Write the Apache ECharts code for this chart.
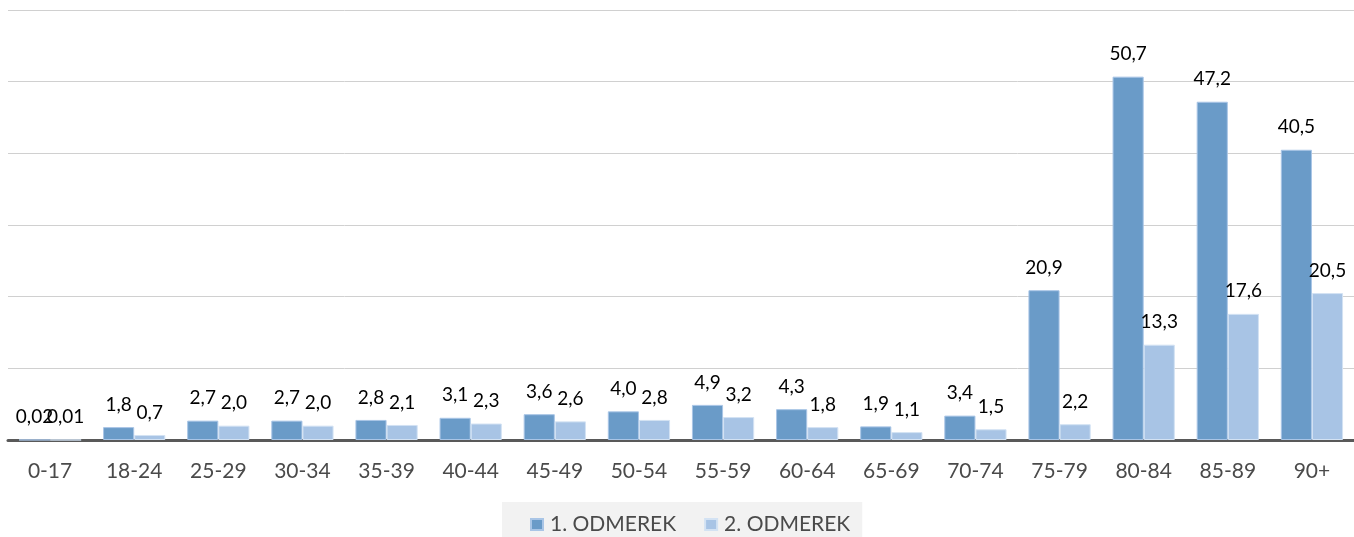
<!DOCTYPE html>
<html>
<head>
<meta charset="utf-8">
<script src="https://cdn.jsdelivr.net/npm/echarts@6/dist/echarts.min.js"></script>
<style>
html,body{margin:0;padding:0;background:#fff;}
#chart{width:1354px;height:537px;}
</style>
</head>
<body>
<div id="chart"></div>
<script>
const categories = ['0-17','18-24','25-29','30-34','35-39','40-44','45-49','50-54','55-59','60-64','65-69','70-74','75-79','80-84','85-89','90+'];
const seriesNames = ['1. ODMEREK','2. ODMEREK'];
const dose1 = [0.02,1.8,2.7,2.7,2.8,3.1,3.6,4.0,4.9,4.3,1.9,3.4,20.9,50.7,47.2,40.5];
const dose2 = [0.01,0.7,2.0,2.0,2.1,2.3,2.6,2.8,3.2,1.8,1.1,1.5,2.2,13.3,17.6,20.5];

const fmt = p => {
  const v = p.value;
  return (v < 0.1 ? v.toFixed(2) : v.toFixed(1)).replace('.', ',');
};
const labelStyle = {
  show: true, position: 'top', distance: 13,
  fontFamily: 'Lato', fontSize: 19, color: '#000', formatter: fmt
};

const chart = echarts.init(document.getElementById('chart'));
chart.setOption({
  animation: false,
  backgroundColor: '#ffffff',
  grid: {left: 8, right: 0, top: 10, bottom: 97, containLabel: false},
  legend: {
    data: seriesNames,
    left: 502, top: 502,
    padding: [12, 12, 12, 28],
    backgroundColor: '#f2f2f2',
    itemWidth: 12, itemHeight: 11, itemGap: 28,
    icon: 'rect',
    textStyle: {fontFamily: 'Lato', fontSize: 21, color: '#4a4a4a', padding: [0,0,0,2]}
  },
  xAxis: {
    type: 'category', data: categories,
    axisLine: {lineStyle: {color: '#595959', width: 3}},
    axisTick: {show: false},
    axisLabel: {fontFamily: 'Lato', fontSize: 21, color: '#4a4a4a', margin: 21, interval: 0}
  },
  yAxis: {
    type: 'value', min: 0, max: 60, interval: 10,
    axisLabel: {show: false},
    axisLine: {show: false}, axisTick: {show: false},
    splitLine: {lineStyle: {color: '#d0d0d0', width: 1}}
  },
  series: [
    {name: seriesNames[0], type: 'bar', data: dose1, barGap: '0%', barCategoryGap: '26%',
     itemStyle: {color: '#6a9bc8', borderColor: '#a9c5e6', borderWidth: 1}, label: labelStyle},
    {name: seriesNames[1], type: 'bar', data: dose2,
     itemStyle: {color: '#a8c4e5', borderColor: '#d3e2f3', borderWidth: 1}, label: labelStyle}
  ]
});
</script>
</body>
</html>
